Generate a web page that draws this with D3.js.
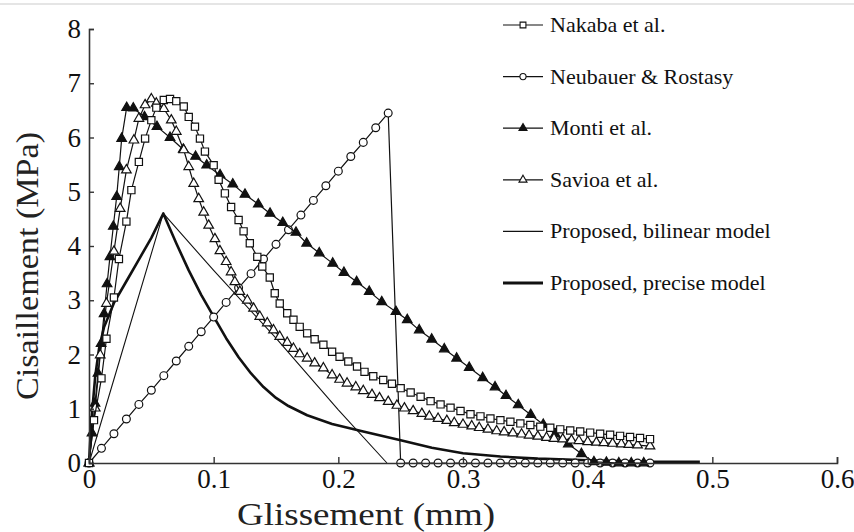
<!DOCTYPE html>
<html>
<head>
<meta charset="utf-8">
<script src="https://cdn.jsdelivr.net/npm/d3@7"></script>
<style>
  body { margin: 0; background: #fff; }
  svg { display: block; }
  svg text { font-family: "Liberation Serif", "Times New Roman", Times, "DejaVu Serif", serif; }
</style>
</head>
<body>
<svg id="chart" width="854" height="532"></svg>
<script>
// tick values
const xTicks = [0, 0.1, 0.2, 0.3, 0.4, 0.5, 0.6];
const yTicks = [0, 1, 2, 3, 4, 5, 6, 7, 8];

// [slip (mm), shear (MPa)]
const nakaba = [[0,0],[0.004,0.79],[0.010,1.56],[0.014,2.29],[0.020,3.05],[0.024,3.76],[0.030,4.45],[0.034,5.03],
  [0.040,5.55],[0.045,5.98],[0.050,6.32],[0.054,6.55],[0.060,6.69],[0.065,6.71],[0.070,6.67],[0.076,6.57],
  [0.080,6.38],[0.085,6.20],[0.089,5.98],[0.093,5.74],[0.100,5.49],[0.104,5.22],[0.109,4.97],[0.114,4.72],
  [0.120,4.48],[0.124,4.27],[0.129,4.05],[0.135,3.80],[0.139,3.62],[0.145,3.42],[0.149,3.13],[0.153,2.94],
  [0.159,2.76],[0.164,2.64],[0.169,2.51],[0.175,2.39],[0.181,2.28],[0.188,2.18],[0.195,2.05],[0.201,1.96],
  [0.208,1.87],[0.215,1.78],[0.221,1.68],[0.228,1.60],[0.236,1.53],[0.243,1.46],[0.250,1.38],[0.258,1.30],
  [0.266,1.22],[0.274,1.14],[0.282,1.08],[0.290,1.02],[0.298,0.96],[0.306,0.90],[0.314,0.86],[0.322,0.82],
  [0.330,0.79],[0.338,0.76],[0.346,0.73],[0.354,0.70],[0.362,0.67],[0.370,0.65],[0.378,0.62],[0.386,0.60],
  [0.394,0.58],[0.402,0.56],[0.410,0.54],[0.418,0.52],[0.426,0.50],[0.434,0.48],[0.442,0.46],[0.450,0.44]];

const neubauer = [[0,0],[0.01,0.27],[0.02,0.54],[0.03,0.81],[0.04,1.08],[0.05,1.34],[0.06,1.61],[0.07,1.88],
  [0.08,2.15],[0.09,2.42],[0.10,2.69],[0.11,2.96],[0.12,3.23],[0.13,3.49],[0.14,3.76],[0.15,4.03],[0.16,4.30],
  [0.17,4.57],[0.18,4.84],[0.19,5.11],[0.20,5.38],[0.21,5.65],[0.22,5.91],[0.23,6.18],[0.24,6.45],
  [0.25,0],[0.26,0],[0.27,0],[0.28,0],[0.29,0],[0.30,0],[0.31,0],[0.32,0],[0.33,0],[0.34,0],[0.35,0],
  [0.36,0],[0.37,0],[0.38,0],[0.39,0],[0.40,0],[0.41,0],[0.42,0],[0.43,0],[0.44,0],[0.45,0]];

const monti = [[0,0],[0.0024,0.55],[0.0048,1.10],[0.0072,1.65],[0.0097,2.20],[0.0121,2.75],[0.0145,3.30],
  [0.0168,3.80],[0.0195,4.36],[0.0222,4.91],[0.0243,5.46],[0.0262,5.98],[0.0302,6.55],[0.0355,6.54],
  [0.0445,6.38],[0.0545,6.20],[0.065,6.00],[0.0756,5.78],[0.0855,5.65],[0.0944,5.49],[0.1051,5.31],
  [0.1153,5.14],[0.1251,4.95],[0.1358,4.77],[0.1452,4.60],[0.1554,4.43],[0.166,4.25],[0.1746,4.05],
  [0.1847,3.87],[0.1955,3.68],[0.2045,3.51],[0.2147,3.34],[0.2248,3.16],[0.2348,2.97],[0.2462,2.79],
  [0.2553,2.64],[0.2649,2.45],[0.2749,2.28],[0.285,2.10],[0.2949,1.93],[0.305,1.76],[0.3158,1.57],
  [0.3257,1.40],[0.3345,1.24],[0.3443,1.07],[0.3543,0.89],[0.3644,0.71],[0.374,0.53],[0.3845,0.35],
  [0.395,0.17],[0.405,0.02],[0.415,0.01],[0.425,0],[0.435,0],[0.445,0]];

const savioa = [[0,0],[0.005,1.01],[0.009,1.99],[0.014,2.94],[0.020,3.90],[0.025,4.69],[0.030,5.40],
  [0.036,5.95],[0.040,6.35],[0.045,6.60],[0.050,6.71],[0.054,6.63],[0.060,6.53],[0.066,6.32],[0.070,6.11],
  [0.076,5.77],[0.080,5.46],[0.084,5.15],[0.088,4.87],[0.092,4.62],[0.096,4.38],[0.101,4.13],[0.105,3.91],
  [0.110,3.71],[0.114,3.52],[0.117,3.34],[0.121,3.16],[0.127,3.00],[0.132,2.85],[0.137,2.70],[0.143,2.58],
  [0.148,2.45],[0.153,2.33],[0.159,2.22],[0.164,2.11],[0.169,2.01],[0.175,1.93],[0.181,1.84],[0.188,1.75],
  [0.195,1.62],[0.201,1.54],[0.207,1.47],[0.214,1.40],[0.220,1.33],[0.227,1.26],[0.233,1.20],[0.240,1.13],
  [0.247,1.06],[0.253,1.01],[0.260,0.96],[0.267,0.91],[0.273,0.86],[0.280,0.82],[0.287,0.78],[0.293,0.74],
  [0.300,0.71],[0.307,0.68],[0.313,0.65],[0.320,0.62],[0.327,0.59],[0.333,0.57],[0.340,0.55],[0.347,0.53],
  [0.353,0.51],[0.360,0.49],[0.367,0.47],[0.373,0.45],[0.380,0.44],[0.387,0.42],[0.393,0.41],[0.400,0.39],
  [0.407,0.38],[0.413,0.37],[0.420,0.36],[0.427,0.35],[0.433,0.34],[0.440,0.33],[0.450,0.31]];

const bilinear = [[0,0],[0.0596,4.60],[0.10,3.55],[0.15,2.30],[0.20,0.98],[0.239,0]];

const precise = [[0,0],[0.002,0.8],[0.005,1.6],[0.008,2.1],[0.012,2.5],[0.02,2.95],[0.03,3.35],[0.04,3.75],
  [0.05,4.15],[0.0596,4.60],[0.07,4.05],[0.08,3.55],[0.09,3.10],[0.10,2.70],[0.11,2.30],[0.12,1.95],
  [0.13,1.65],[0.14,1.40],[0.15,1.20],[0.16,1.05],[0.175,0.88],[0.195,0.72],[0.22,0.58],[0.25,0.42],
  [0.275,0.28],[0.30,0.18],[0.33,0.12],[0.36,0.08],[0.40,0.05],[0.45,0.02],[0.49,0.02]];

const legendLabels = ["Nakaba et al.", "Neubauer & Rostasy", "Monti et al.", "Savioa et al.",
  "Proposed, bilinear model", "Proposed, precise model"];

const ink = "#111";
const svg = d3.select("#chart");

const x = d3.scaleLinear().domain([0, 0.6]).range([89, 837]);
const y = d3.scaleLinear().domain([0, 8]).range([463, 29]);

// faint border line at the very top of the screenshot
svg.append("line").attr("x1", 0).attr("x2", 854).attr("y1", 4).attr("y2", 4)
  .attr("stroke", "#dcdcdc").attr("stroke-width", 1.5);

const line = d3.line().x(d => x(d[0])).y(d => y(d[1]));

const sym = {
  square: d3.symbol().type(d3.symbolSquare).size(52),
  circle: d3.symbol().type(d3.symbolCircle).size(48),
  triangle: d3.symbol().type(d3.symbolTriangle).size(40)
};

const series = [
  { data: bilinear, width: 1.1, marker: null },
  { data: precise, width: 2.6, marker: null },
  { data: neubauer, width: 1.2, marker: "circle", fill: "#fff" },
  { data: monti, width: 1.2, marker: "triangle", fill: ink },
  { data: savioa, width: 1.2, marker: "triangle", fill: "#fff" },
  { data: nakaba, width: 1.2, marker: "square", fill: "#fff" }
];

const plot = svg.append("g");
series.forEach(s => {
  plot.append("path").datum(s.data)
    .attr("d", line).attr("fill", "none")
    .attr("stroke", ink).attr("stroke-width", s.width)
    .attr("stroke-linejoin", "round");
  if (s.marker) {
    plot.append("g").selectAll("path").data(s.data).join("path")
      .attr("transform", d => `translate(${x(d[0])},${y(d[1])})`)
      .attr("d", sym[s.marker])
      .attr("fill", s.fill).attr("stroke", ink).attr("stroke-width", 1.2);
  }
});

// axes
const yAxis = g => g
  .attr("transform", `translate(${x(0)},0)`)
  .call(d3.axisLeft(y).tickValues(yTicks).tickSize(-5).tickPadding(8).tickFormat(d => String(d)))
  .call(g => g.select(".domain").attr("stroke", "#333").attr("stroke-width", 1.6));

const xAxis = g => g
  .attr("transform", `translate(0,${y(0)})`)
  .call(d3.axisBottom(x).tickValues(xTicks).tickSize(-6).tickPadding(6).tickFormat(d => String(d)))
  .call(g => g.select(".domain").attr("stroke", "#333").attr("stroke-width", 1.6));

svg.append("g").call(yAxis);
svg.append("g").call(xAxis);

svg.selectAll(".tick line").attr("stroke", "#333").attr("stroke-width", 1.4);
svg.selectAll(".tick text")
  .attr("fill", ink)
  .attr("font-family", null)
  .style("font-size", "27px");

// axis titles
svg.append("text")
  .attr("x", 366).attr("y", 525)
  .attr("text-anchor", "middle")
  .attr("textLength", 258).attr("lengthAdjust", "spacingAndGlyphs")
  .style("font-size", "31px")
  .attr("fill", "#222")
  .text("Glissement (mm)");

svg.append("text")
  .attr("transform", "translate(38,266) rotate(-90)")
  .attr("text-anchor", "middle")
  .attr("textLength", 268).attr("lengthAdjust", "spacingAndGlyphs")
  .style("font-size", "31px")
  .attr("fill", "#222")
  .text("Cisaillement (MPa)");

// legend
const legendItems = [
  { marker: "square", fill: "#fff", width: 1.2 },
  { marker: "circle", fill: "#fff", width: 1.2 },
  { marker: "triangle", fill: ink, width: 1.2 },
  { marker: "triangle", fill: "#fff", width: 1.2 },
  { marker: null, width: 1.1 },
  { marker: null, width: 2.8 }
];
const legendY = d3.scalePoint().domain(d3.range(legendLabels.length)).range([25, 283]);
const small = {
  square: d3.symbol().type(d3.symbolSquare).size(34),
  circle: d3.symbol().type(d3.symbolCircle).size(30),
  triangle: d3.symbol().type(d3.symbolTriangle).size(28)
};
const legend = svg.append("g");
legendLabels.forEach((label, i) => {
  const g = legend.append("g").attr("transform", `translate(0,${legendY(i)})`);
  g.append("line").attr("x1", 503).attr("x2", 543).attr("y1", 0).attr("y2", 0)
    .attr("stroke", ink).attr("stroke-width", legendItems[i].width);
  if (legendItems[i].marker) {
    g.append("path").attr("transform", "translate(523,0)")
      .attr("d", small[legendItems[i].marker])
      .attr("fill", legendItems[i].fill).attr("stroke", ink).attr("stroke-width", 1.1);
  }
  g.append("text").attr("x", 550).attr("y", 7)
    .style("font-size", "22px")
    .attr("fill", ink)
    .text(label);
});
</script>
</body>
</html>
